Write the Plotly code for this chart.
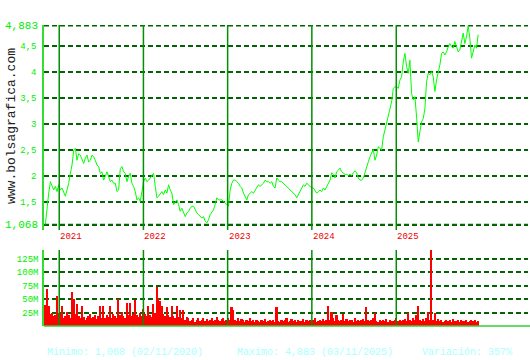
import pandas as pd
import plotly.graph_objects as go

# ---------------- data ----------------
start_date = "2020-11-02"
end_date = "2025-12-22"

prices = [
    1.068, 1.45, 1.67, 1.89, 1.80, 1.73, 1.80, 1.70, 1.83, 1.73,
    1.77, 1.70, 1.61, 1.73, 1.86, 2.05, 2.21, 2.49, 2.53, 2.30,
    2.43, 2.40, 2.30, 2.24, 2.34, 2.40, 2.27, 2.30, 2.40, 2.37,
    2.30, 2.21, 2.18, 2.05, 2.08, 1.92, 1.99, 2.08, 1.99, 1.89,
    1.92, 1.86, 1.86, 1.70, 1.73, 2.14, 2.18, 2.08, 2.05, 1.89,
    1.99, 2.05, 1.86, 1.80, 1.70, 1.54, 1.58, 1.51, 1.70, 1.89,
    1.96, 1.89, 1.92,
    1.96, 2.02, 2.05, 1.80, 1.58, 1.61, 1.67, 1.70, 1.64, 1.73,
    1.67, 1.83, 1.73, 1.67, 1.45, 1.51, 1.54, 1.45, 1.32, 1.38,
    1.29, 1.22, 1.29, 1.32, 1.38, 1.42, 1.42, 1.35, 1.29, 1.26,
    1.22, 1.19, 1.22, 1.13, 1.10, 1.16, 1.26, 1.32, 1.35, 1.45,
    1.58, 1.54, 1.54, 1.54, 1.51, 1.48, 1.45, 1.42, 1.73, 1.86,
    1.92, 1.92, 1.89, 1.86, 1.80, 1.77, 1.67, 1.61, 1.54, 1.64,
    1.67, 1.70, 1.67, 1.73, 1.77, 1.83, 1.80, 1.83, 1.86, 1.92,
    1.89, 1.89, 1.86, 1.89, 1.80, 1.77, 1.96, 1.92, 1.89, 1.89,
    1.86, 1.83, 1.80, 1.77, 1.73, 1.70, 1.67, 1.64, 1.58, 1.64,
    1.70, 1.77, 1.83, 1.80, 1.86, 1.83, 1.80, 1.77, 1.77, 1.73,
    1.67, 1.70, 1.73, 1.70, 1.77, 1.73, 1.80, 1.86, 1.92, 2.06,
    2.03, 1.96, 2.08, 2.11, 2.15, 2.08, 2.06, 2.03, 2.03, 2.01,
    2.03, 2.01, 2.06, 2.10, 2.06, 1.96, 1.92, 1.92, 1.96, 2.08,
    2.18, 2.27, 2.37, 2.46, 2.51, 2.30, 2.40, 2.56, 2.53, 2.50,
    2.75, 2.88, 2.97, 3.10, 3.26, 3.42,
    3.68, 3.71, 3.71, 3.68, 3.84, 3.90, 4.19, 4.35, 4.10, 3.97,
    4.22, 3.58, 3.46, 3.52, 3.13, 2.65, 2.85, 3.04, 3.10, 3.29,
    3.81, 3.97, 3.94, 4.00, 3.90, 3.62, 3.84, 3.97, 4.13, 4.35,
    4.38, 4.32, 4.38, 4.48, 4.54, 4.48, 4.45, 4.58, 4.45, 4.38,
    4.42, 4.58, 4.74, 4.54, 4.67, 4.883, 4.64, 4.26, 4.42, 4.51,
    4.45, 4.71,
]

volumes_m = [
    40, 68, 38, 22, 25, 18, 20, 56, 24, 22, 38, 15, 18, 26, 20, 14, 64, 50, 22, 41,
    18, 14, 38, 16, 12, 15, 18, 22, 14, 16, 20, 13, 18, 38, 15, 37, 14, 20, 16, 37,
    15, 22, 18, 14, 50, 20, 26, 18, 15, 43, 20, 43, 18, 22, 49, 20, 16, 24, 18, 32,
    22, 18, 37, 20, 16, 41, 24, 72, 53, 47, 38, 22, 18, 35, 20, 16, 37, 18, 14, 37,
    16, 30, 14, 30, 12, 16, 14, 10, 12, 15, 8, 11, 14, 9, 12, 15, 10, 13, 9, 12,
    14, 10, 12, 16, 11, 9, 13, 15, 10, 12, 14, 11, 36, 30, 12, 10, 14, 9, 13, 11,
    8, 12, 10, 14, 9, 11, 7, 12, 10, 8, 11, 9, 13, 8, 10, 12, 9, 11, 8, 36,
    10, 8, 12, 9, 11, 14, 8, 10, 13, 9, 11, 8, 12, 10, 9, 13, 8, 11, 10, 12,
    9, 11, 14, 8, 10, 12, 9, 13, 10, 11, 38, 12, 26, 14, 10, 20, 12, 9, 11, 22,
    10, 13, 9, 12, 11, 8, 14, 10, 12, 9, 11, 13, 10, 36, 12, 9, 11, 14, 24, 10,
    8, 12, 9, 11, 10, 13, 8, 12, 10, 9, 11, 14, 10, 12, 9, 11, 13, 10, 24, 12,
    9, 14, 11, 20, 38, 12, 10, 13, 9, 15, 26, 11, 141, 12, 24, 10, 13, 9, 11, 8,
    10, 12, 9, 11, 8, 13, 10, 9, 12, 8, 11, 10, 9, 12, 8, 10, 11, 9, 12, 8,
    10,
]

price_ticks = [1.068, 1.5, 2, 2.5, 3, 3.5, 4, 4.5, 4.883]
price_tick_text = ["", "1,5", "2", "2,5", "3", "3,5", "4", "4,5", ""]
vol_ticks = [25, 50, 75, 100, 125]
vol_tick_text = ["25M", "50M", "75M", "100M", "125M"]
years = ["2021", "2022", "2023", "2024", "2025"]

min_text = "Minimo: 1,068 (02/11/2020)"
max_text = "Maximo: 4,883 (03/11/2025)"
var_text = "Variación: 357%"
watermark = "www.bolsagrafica.com"

# ---------------- figure ----------------
W, H = 530, 360
dates = pd.date_range(start_date, end_date, periods=len(prices))


def py(px):  # pixel (from top) -> paper fraction
    return (H - px) / H


MONO = "Liberation Mono, DejaVu Sans Mono, monospace"
GRID = "#006400"
YEARLINE = "#009000"
DASH = "5px,3px"

fig = go.Figure()
fig.add_trace(go.Scatter(x=dates, y=prices, mode="lines",
                         line=dict(color="#00ff00", width=1), xaxis="x", yaxis="y",
                         showlegend=False, hoverinfo="skip"))
fig.add_trace(go.Bar(x=dates, y=volumes_m, marker=dict(color="#ff0000", line=dict(width=0)),
                     xaxis="x2", yaxis="y2", showlegend=False, hoverinfo="skip"))

x_range = ["2020-10-27", "2026-07-26"]

fig.update_layout(
    width=W, height=H,
    margin=dict(l=44, r=2, t=0, b=0),
    paper_bgcolor="white", plot_bgcolor="white",
    bargap=0,
    xaxis=dict(domain=[0, 1], range=x_range, type="date", showgrid=False,
               showticklabels=False, zeroline=False, showline=False, anchor="y"),
    xaxis2=dict(domain=[0, 1], range=x_range, type="date", showgrid=False,
                showticklabels=False, zeroline=False, showline=False, anchor="y2"),
    yaxis=dict(domain=[py(230), py(25)], range=[0.963, 4.896],
               tickvals=price_ticks, ticktext=price_tick_text,
               tickfont=dict(family=MONO, size=9, color="#00ee00"),
               showgrid=True, gridcolor=GRID, gridwidth=1.5, griddash=DASH,
               zeroline=False, showline=True, linecolor="#33dd33", linewidth=1.5,
               ticks="", ticklabelstandoff=4),
    yaxis2=dict(domain=[py(326), py(250)], range=[0, 141.5],
                tickvals=vol_ticks, ticktext=vol_tick_text,
                tickfont=dict(family=MONO, size=9, color="#00ee00"),
                showgrid=True, gridcolor=GRID, gridwidth=1.5, griddash=DASH,
                zeroline=False, showline=True, linecolor="#33dd33", linewidth=1.5,
                ticks="", ticklabelstandoff=2),
)

shapes = []
annotations = []

# extreme price gridlines drawn explicitly (plotly drops grid lines at the edge)
for val in (price_ticks[0], price_ticks[-1]):
    shapes.append(dict(type="line", xref="paper", yref="y", x0=0, x1=1, y0=val, y1=val,
                       line=dict(color=GRID, width=1.5, dash=DASH), layer="below"))

for yr in years:
    d = f"{yr}-01-01"
    shapes.append(dict(type="line", xref="x", yref="paper", x0=d, x1=d,
                       y0=py(230), y1=py(25), line=dict(color=YEARLINE, width=1.5)))
    shapes.append(dict(type="line", xref="x2", yref="paper", x0=d, x1=d,
                       y0=py(325), y1=py(250), line=dict(color=YEARLINE, width=1.5)))
    annotations.append(dict(text=yr, xref="x", yref="paper", x=d, y=py(237),
                            xanchor="left", yanchor="middle", showarrow=False,
                            xshift=-1, font=dict(family=MONO, size=9, color="#ee0000")))

# bottom axis line of volume panel
shapes.append(dict(type="line", xref="paper", yref="paper", x0=0, x1=1.01,
                   y0=py(326), y1=py(326), line=dict(color="#33cc33", width=1.5)))

# large extreme labels
for val, txt in [(4.883, "4,883"), (1.068, "1,068")]:
    annotations.append(dict(text=txt, xref="paper", yref="y", x=0, y=val,
                            xanchor="right", yanchor="middle", xshift=-4,
                            showarrow=False,
                            font=dict(family=MONO, size=11, color="#00ee00")))

# watermark
annotations.append(dict(text=watermark, xref="paper", yref="paper",
                        x=-32 / 484, y=py(126), textangle=-90,
                        xanchor="center", yanchor="middle", showarrow=False,
                        font=dict(family=MONO, size=13, color="#222222")))

# footer
for txt, xpx in [(min_text, 45), (max_text, 235), (var_text, 420)]:
    annotations.append(dict(text=txt, xref="paper", yref="paper",
                            x=(xpx - 44) / 484, y=py(352), xanchor="left",
                            yanchor="middle", showarrow=False,
                            font=dict(family=MONO, size=10, color="#aaffff")))

fig.update_layout(shapes=shapes, annotations=annotations)
fig.write_html("out.html")
